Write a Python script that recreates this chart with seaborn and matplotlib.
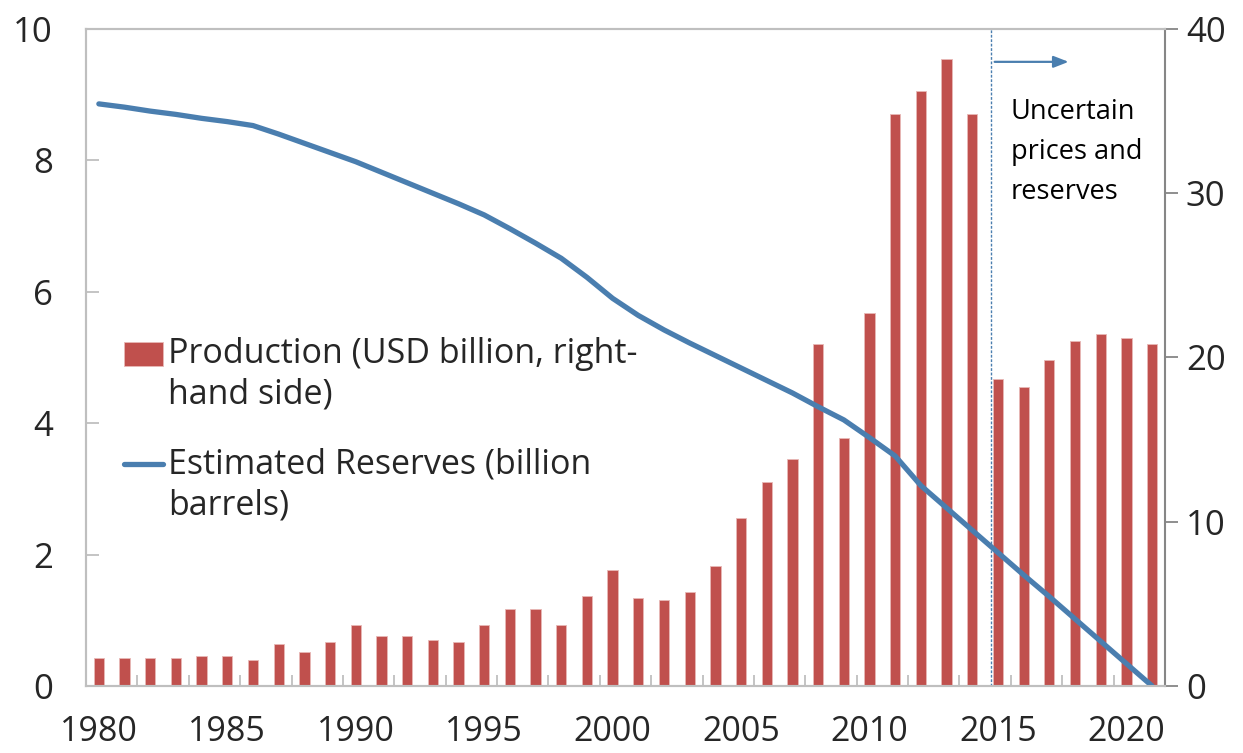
import numpy as np
import pandas as pd
import matplotlib
matplotlib.use("Agg")
import matplotlib.pyplot as plt
from matplotlib.artist import Artist
from matplotlib.ticker import FixedLocator
from matplotlib.transforms import Affine2D
import seaborn as sns

# data
years = list(range(1980, 2022))
production = [1.7, 1.73, 1.7, 1.7, 1.8, 1.83, 1.6, 2.58, 2.05, 2.66,
              3.74, 3.03, 3.05, 2.8, 2.68, 3.7, 4.71, 4.68, 3.7, 5.49,
              7.07, 5.37, 5.24, 5.73, 7.32, 10.24, 12.4, 13.8, 20.85, 15.1,
              22.7, 34.8, 36.2, 38.2, 34.8, 18.7, 18.2, 19.85, 21.0, 21.4,
              21.2, 20.8]
reserves = [8.86, 8.81, 8.75, 8.70, 8.64, 8.59, 8.53, 8.40, 8.26, 8.12,
            7.98, 7.82, 7.66, 7.50, 7.34, 7.17, 6.96, 6.74, 6.51, 6.22,
            5.90, 5.64, 5.42, 5.22, 5.03, 4.84, 4.65, 4.46, 4.25, 4.05,
            3.78, 3.50, 3.05, 2.71, 2.37, 2.03, 1.69, 1.36, 1.02, 0.68,
            0.34, 0.0]
left_ticks = [0, 2, 4, 6, 8, 10]
right_ticks = [0, 10, 20, 30, 40]
year_ticks = [1980, 1985, 1990, 1995, 2000, 2005, 2010, 2015, 2020]
prod_label = "Production (USD billion, right-\nhand side)"
res_label = "Estimated Reserves (billion\nbarrels)"
note_text = "Uncertain\nprices and\nreserves"
cutoff_year = 2014.72

df = pd.DataFrame({"year": years, "production": production, "reserves": reserves})

sns.set_style("white")
plt.rcParams["font.family"] = ["Open Sans", "DejaVu Sans"]

bar_color = "#C0504D"
line_color = "#4A7EAF"
light_grey = "#BFBFBF"
dark_grey = "#868686"

fig = plt.figure(figsize=(12.43, 7.53), dpi=100)
ax = fig.add_axes([0.0692, 0.089, 0.868, 0.8725])
ax2 = ax.twinx()

# bars on the right-hand axis
sns.barplot(data=df, x="year", y="production", native_scale=True, width=0.4,
            color=bar_color, edgecolor="#E8B8B6", linewidth=0.6, saturation=1,
            ax=ax2, label=prod_label)
ax2.set_ylim(0, 40)

# reserves line on the left axis, drawn above the bars
sns.lineplot(data=df, x="year", y="reserves", color=line_color, linewidth=3.8,
             solid_capstyle="round", ax=ax, label=res_label)
ax.set_ylim(0, 10)
ax.set_xlim(1979.5, 2021.5)
ax.set_zorder(ax2.get_zorder() + 1)
ax.patch.set_visible(False)

# vertical marker and arrow
ax.axvline(cutoff_year, color=line_color, linewidth=1.0, linestyle=(0, (2, 1.2)))
ax.annotate("", xy=(2017.75, 9.5), xytext=(2014.87, 9.5),
            arrowprops=dict(arrowstyle="-|>,head_length=0.9,head_width=0.35",
                            color=line_color, lw=1.6, shrinkA=0, shrinkB=0))
ax.text(2015.5, 8.95, note_text, fontsize=19.5, va="top", ha="left",
        linespacing=1.58, color="black")

# axes styling
ax.set_yticks(left_ticks)
ax2.set_yticks(right_ticks)
ax.set_xticks(year_ticks)
ax.xaxis.set_minor_locator(FixedLocator(np.arange(1981.5, 2021, 2)))
ax.set_xlabel("")
ax.set_ylabel("")
ax2.set_xlabel("")
ax2.set_ylabel("")

ax.tick_params(axis="y", direction="in", length=9, width=1.3, color=light_grey,
               labelsize=25, pad=24)
ax2.tick_params(axis="y", direction="out", length=9, width=1.3, color=dark_grey,
                labelsize=25, pad=6, right=True)
ax.tick_params(axis="x", which="major", length=0, labelsize=24.5, pad=21)
ax.tick_params(axis="x", which="minor", direction="in", length=8, width=1.3,
               color=light_grey, bottom=True)
ax2.tick_params(axis="x", which="both", length=0)

for a in (ax, ax2):
    for side in ("left", "top", "bottom"):
        a.spines[side].set_color(light_grey)
        a.spines[side].set_linewidth(1.5)
    a.spines["right"].set_color(dark_grey)
    a.spines["right"].set_linewidth(1.5)
ax.spines["right"].set_visible(False)

# combined legend
h1, l1 = ax2.get_legend_handles_labels()
h2, l2 = ax.get_legend_handles_labels()
if ax2.get_legend():
    ax2.get_legend().remove()
leg_size = 24.5
leg_spacing = 1.26
leg = ax.legend(h1 + h2, l1 + l2, loc="upper left", bbox_to_anchor=(0.023, 0.552),
                frameon=False, fontsize=leg_size, handlelength=1.12, handletextpad=0.15,
                labelspacing=1.05, borderaxespad=0)
for t in leg.get_texts():
    t.set_linespacing(leg_spacing)

# lift the handles to sit beside the first line of each two-line label
lift_px = 0.5 * leg_spacing * leg_size * fig.dpi / 72
for h in leg.legend_handles:
    base = Artist.get_transform(h)
    h.set_transform(base + Affine2D().translate(0, lift_px))

fig.savefig("out.png", dpi=100)
